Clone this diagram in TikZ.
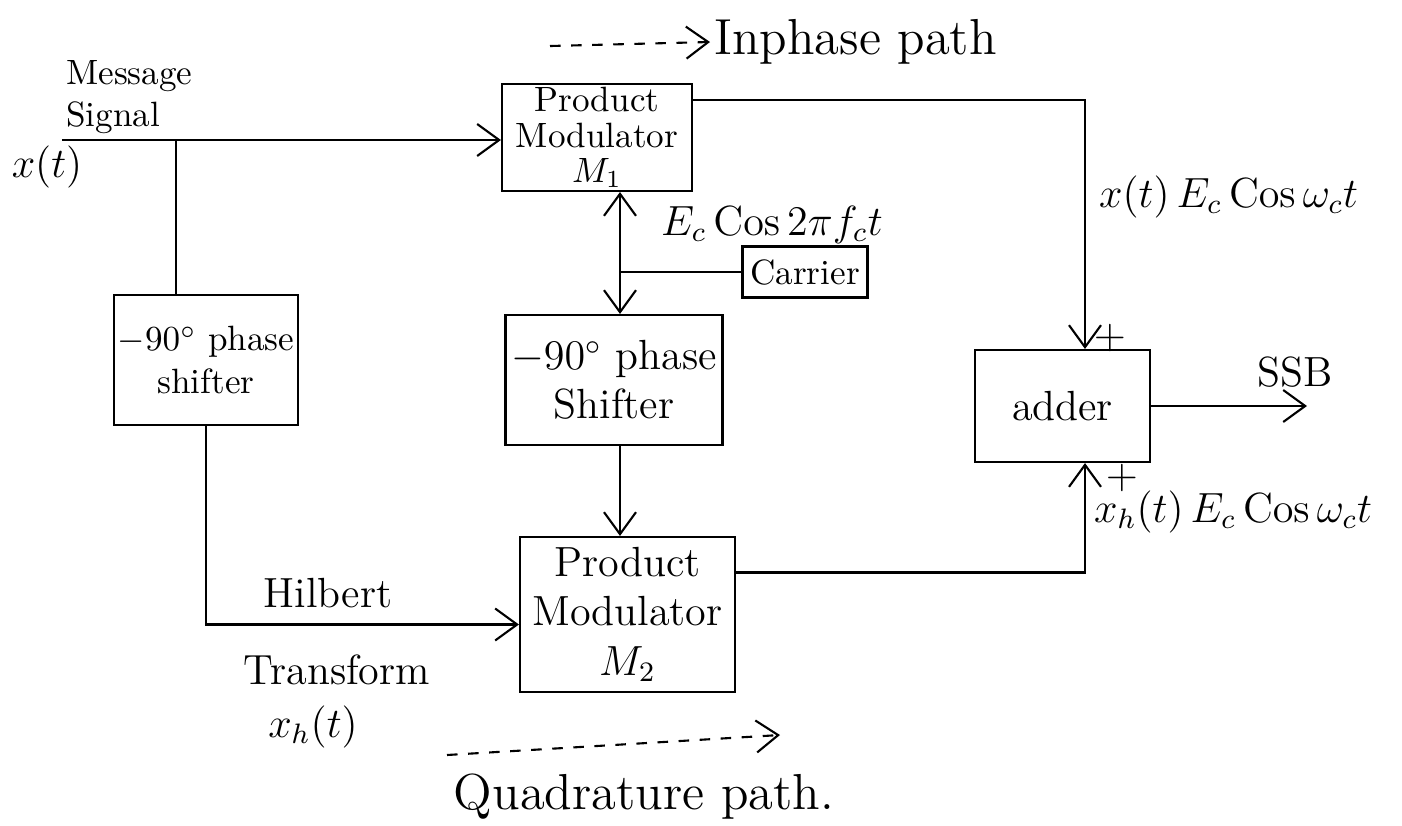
\documentclass[tikz,border=0pt]{standalone}
\usepackage{amsmath}
\usetikzlibrary{arrows.meta, positioning, calc}

\begin{document}
\begin{tikzpicture}[
    box/.style={rectangle, draw=black, semithick, align=center,
                inner sep=1pt, font=\large},
    arr/.style={-{Straight Barb[length=2.2mm, width=3.2mm]}, semithick},
    dbl/.style={{Straight Barb[length=2.2mm, width=3.2mm]}-{Straight Barb[length=2.2mm, width=3.2mm]}, semithick},
    wire/.style={semithick},
    lbl/.style={inner sep=1pt, font=\large}
]
  \useasboundingbox (0,0) rectangle (14.02,-8.25);

  % blocks
  \node[box, minimum width=1.9cm, minimum height=1.05cm, font=\normalsize] (m1) at (5.97,-1.375)
       {Product\\[-2pt]Modulator\\[-2pt]$M_1$};
  \node[box, minimum width=2.17cm, minimum height=1.3cm] (ps2) at (6.14,-3.8) {$-90^\circ$ phase\\Shifter};
  \node[box, minimum width=2.15cm, minimum height=1.55cm] (m2) at (6.275,-6.145)
       {Product\\Modulator\\$M_2$};
  \node[box, minimum width=1.7cm, minimum height=1.3cm, font=\normalsize] (ps1) at (2.06,-3.6) {$-90^\circ$ phase\\shifter};
  \node[box, minimum width=1.25cm, minimum height=0.51cm, font=\normalsize] (carrier) at (8.05,-2.72) {Carrier};
  \node[box, minimum width=1.75cm, minimum height=1.12cm] (adder) at (10.625,-4.06) {adder};

  \coordinate (src) at (0.62,-1.4);
  \coordinate (br)  at (1.76,-1.4);
  \coordinate (tap) at (6.2,-2.72);
  \coordinate (sx)  at (10.85,-4);
  \coordinate (ssb) at (13.07,-4.06);

  % message path
  \draw[arr]  (src) -- (src -| m1.west);
  \draw[wire] (br) -- (br |- ps1.north);
  \draw[arr]  (ps1.south) |- ([yshift=-0.1cm]m2.west);

  % carrier
  \draw[dbl]  (tap |- m1.south) -- (tap |- ps2.north);
  \draw[wire] (carrier.west) -- (tap);
  \draw[arr]  (tap |- ps2.south) -- (tap |- m2.north);

  % to the adder
  \draw[arr] ([yshift=0.375cm]m1.east) -| (sx |- adder.north);
  \draw[arr] ([yshift=0.42cm]m2.east) -| (sx |- adder.south);
  \draw[arr] (adder.east) -- (ssb);

  % labels
  \node[lbl, align=left, anchor=south west, font=\normalsize] (msg) at (0.62,-1.38) {Message\\Signal};
  \node[lbl] (xt)  at (0.47,-1.67) {$x(t)$};
  \node[lbl] (ec)  at (7.72,-2.25) {$E_c\,\mathrm{Cos}\,2\pi f_c t$};
  \node[lbl] (hil) at (3.28,-5.93) {Hilbert};
  \node[lbl] (trf) at (3.37,-6.7)  {Transform};
  \node[lbl] (xh)  at (3.13,-7.27) {$x_h(t)$};
  \node[lbl, anchor=west] (up)  at (10.95,-1.97) {$x(t)\,E_c\,\mathrm{Cos}\,\omega_c t$};
  \node[lbl, anchor=west] (low) at (10.9,-5.12)  {$x_h(t)\,E_c\,\mathrm{Cos}\,\omega_c t$};
  \node[lbl] (p1)  at (11.1,-3.38)  {$+$};
  \node[lbl] (p2)  at (11.22,-4.78) {$+$};
  \node[lbl] (out) at (12.95,-3.72) {SSB};

  % path legends
  \node[lbl, anchor=west, font=\Large] (inph) at (7.1,-0.42) {Inphase path};
  \coordinate (ia) at (5.5,-0.46);
  \draw[arr, dashed] (ia) -- (inph.west);

  \node[lbl, font=\Large] (quad) at (6.44,-7.97) {Quadrature path.};
  \coordinate (qa) at (4.47,-7.55);
  \coordinate (qb) at (7.8,-7.35);
  \draw[arr, dashed] (qa) -- (qb);
\end{tikzpicture}
\end{document}
